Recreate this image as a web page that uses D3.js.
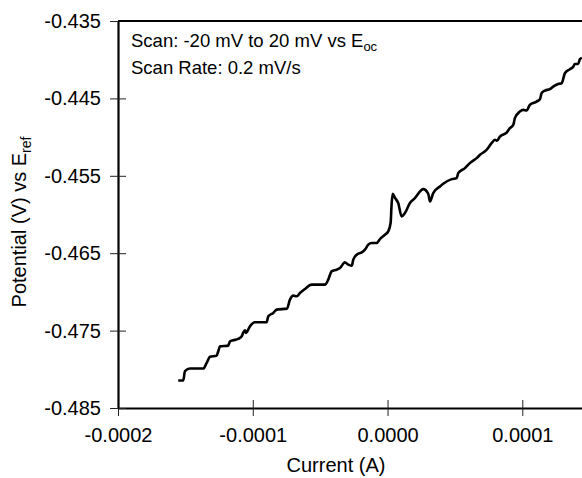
<!DOCTYPE html>
<html>
<head>
<meta charset="utf-8">
<script src="https://cdn.jsdelivr.net/npm/d3@7"></script>
<style>
  html, body { margin: 0; padding: 0; background: #fff; }
  svg { display: block; font-family: "Liberation Sans", Arial, Helvetica, sans-serif; }
</style>
</head>
<body>
<svg id="chart" width="582" height="478"></svg>
<script>
// ---- data (current in µA, potential in V) ----
const current_uA = [
  -155.3, -151.6, -150.3, -146.6, -136.7, -134.2, -131.75, -126.8, -125.6, -124.3,
  -118.2, -116.9, -114.5, -110.8, -108.2, -107.0, -105.8, -105.0, -102.1, -98.4,
  -89.7, -88.5, -84.8, -82.3, -74.6, -72.4, -69.95, -67.4, -65.0, -61.3,
  -56.3, -46.4, -44.0, -41.5, -37.8, -35.3, -31.6, -29.15, -26.6, -25.4,
  -22.9, -19.2, -16.8, -14.3, -11.8, -8.1, -5.6, -1.9, 0.5, 2.3,
  3.0, 3.8, 5.5, 7.9, 10.5, 12.9, 16.6, 20.3, 26.5, 30.2,
  31.5, 33.9, 38.9, 41.3, 47.6, 51.3, 52.5, 57.4, 61.1, 66.1,
  68.6, 73.5, 77.2, 79.7, 81.2, 83.4, 88.4, 90.8, 93.3, 94.5,
  98.2, 100.7, 103.2, 105.6, 110.6, 113.1, 114.3, 116.8, 120.5, 122.9,
  126.6, 129.2, 131.6, 135.3, 137.8, 139.0, 141.5, 142.7, 144.2
];
const potential_V = [
  -0.48145, -0.48145, -0.48025, -0.4799, -0.4799, -0.47917, -0.47839, -0.47823, -0.47767, -0.47703,
  -0.47694, -0.47638, -0.47625, -0.47607, -0.47574, -0.47522, -0.47496, -0.4753, -0.47445, -0.47393,
  -0.47393, -0.47315, -0.47272, -0.47229, -0.47216, -0.471, -0.47048, -0.47057, -0.47014, -0.46962,
  -0.46906, -0.46906, -0.46842, -0.46735, -0.46713, -0.46691, -0.46619, -0.46648, -0.46661, -0.46584,
  -0.46519, -0.4649, -0.46455, -0.4639, -0.46368, -0.46368, -0.46317, -0.46261, -0.46219, -0.46106,
  -0.45874, -0.45732, -0.45784, -0.45852, -0.46025, -0.45981, -0.45852, -0.45788, -0.45672, -0.45732,
  -0.45832, -0.45723, -0.45638, -0.45603, -0.45543, -0.4553, -0.45465, -0.45401, -0.45336, -0.45272,
  -0.45229, -0.45165, -0.45078, -0.45035, -0.45048, -0.44993, -0.44941, -0.44885, -0.44842, -0.44755,
  -0.4467, -0.44648, -0.44657, -0.44584, -0.44541, -0.4451, -0.44433, -0.44399, -0.44381, -0.44348,
  -0.44313, -0.44304, -0.44175, -0.44123, -0.4409, -0.44055, -0.44055, -0.43994, -0.43977
];
const xTicks = [-0.0002, -0.0001, 0.0, 0.0001];
const yTicks = [-0.485, -0.475, -0.465, -0.455, -0.445, -0.435];
const xDomain = [-0.0002, 0.0001443];
const yDomain = [-0.485, -0.435];
const xTitle = "Current (A)";
const legendLines = [
  { text: "Scan: -20 mV to 20 mV vs E", sub: "oc" },
  { text: "Scan Rate: 0.2 mV/s", sub: "" }
];

// ---- layout ----
const W = 582, H = 478;
const mLeft = 118, mRight = 582, mTop = 21, mBottom = 408;

const svg = d3.select("#chart");
const x = d3.scaleLinear().domain(xDomain).range([mLeft, mRight]);
const y = d3.scaleLinear().domain(yDomain).range([mBottom, mTop]);

const loc = d3.formatLocale({ decimal: ".", thousands: ",", grouping: [3], currency: ["", ""], minus: "-" });
const fx = loc.format(".4f");
const fy = loc.format(".3f");

// clip for data line
svg.append("defs").append("clipPath").attr("id", "clip")
  .append("rect").attr("x", mLeft).attr("y", mTop).attr("width", mRight - mLeft).attr("height", mBottom - mTop);

// data line
const pts = current_uA.map((c, i) => [c * 1e-6, potential_V[i]]);
svg.append("path")
  .datum(pts)
  .attr("clip-path", "url(#clip)")
  .attr("fill", "none")
  .attr("stroke", "#000")
  .attr("stroke-width", 2.6)
  .attr("stroke-linejoin", "round")
  .attr("stroke-linecap", "butt")
  .attr("d", d3.line().x(d => x(d[0])).y(d => y(d[1])).curve(d3.curveMonotoneX));

// x axis
const gx = svg.append("g").attr("transform", `translate(0,${mBottom})`)
  .call(d3.axisBottom(x).tickValues(xTicks).tickFormat(fx).tickSizeInner(8).tickSizeOuter(0).tickPadding(12));
gx.select(".domain").attr("stroke", "#000").attr("stroke-width", 2.2);
gx.selectAll(".tick line").attr("y1", -8).attr("stroke", "#222").attr("stroke-width", 1);
gx.selectAll(".tick text").attr("font-size", 20).attr("fill", "#000")
  .attr("font-family", "Liberation Sans, Arial, sans-serif");

// y axis
const gy = svg.append("g").attr("transform", `translate(${mLeft},0)`)
  .call(d3.axisLeft(y).tickValues(yTicks).tickFormat(fy).tickSizeInner(8).tickSizeOuter(0).tickPadding(9));
gy.select(".domain").attr("stroke", "#000").attr("stroke-width", 2.2);
gy.selectAll(".tick line").attr("x1", 8).attr("stroke", "#222").attr("stroke-width", 1);
gy.selectAll(".tick text").attr("font-size", 20).attr("fill", "#000")
  .attr("font-family", "Liberation Sans, Arial, sans-serif");

// top frame line
svg.append("line")
  .attr("x1", mLeft).attr("x2", mRight).attr("y1", mTop).attr("y2", mTop)
  .attr("stroke", "#000").attr("stroke-width", 2.2);

// x title
svg.append("text")
  .attr("x", 336).attr("y", 472)
  .attr("text-anchor", "middle").attr("font-size", 20).attr("fill", "#000")
  .text(xTitle);

// y title
const yt = svg.append("text")
  .attr("transform", `translate(26,222) rotate(-90)`)
  .attr("text-anchor", "middle").attr("font-size", 20).attr("fill", "#000");
yt.append("tspan").text("Potential (V) vs E");
yt.append("tspan").attr("font-size", 14).attr("dy", 5).text("ref");

// legend text
legendLines.forEach((l, i) => {
  const t = svg.append("text")
    .attr("x", 131).attr("y", 47 + i * 27)
    .attr("font-size", 18.5).attr("fill", "#000");
  t.append("tspan").text(l.text);
  if (l.sub) t.append("tspan").attr("font-size", 13).attr("dy", 4).text(l.sub);
});
</script>
</body>
</html>
